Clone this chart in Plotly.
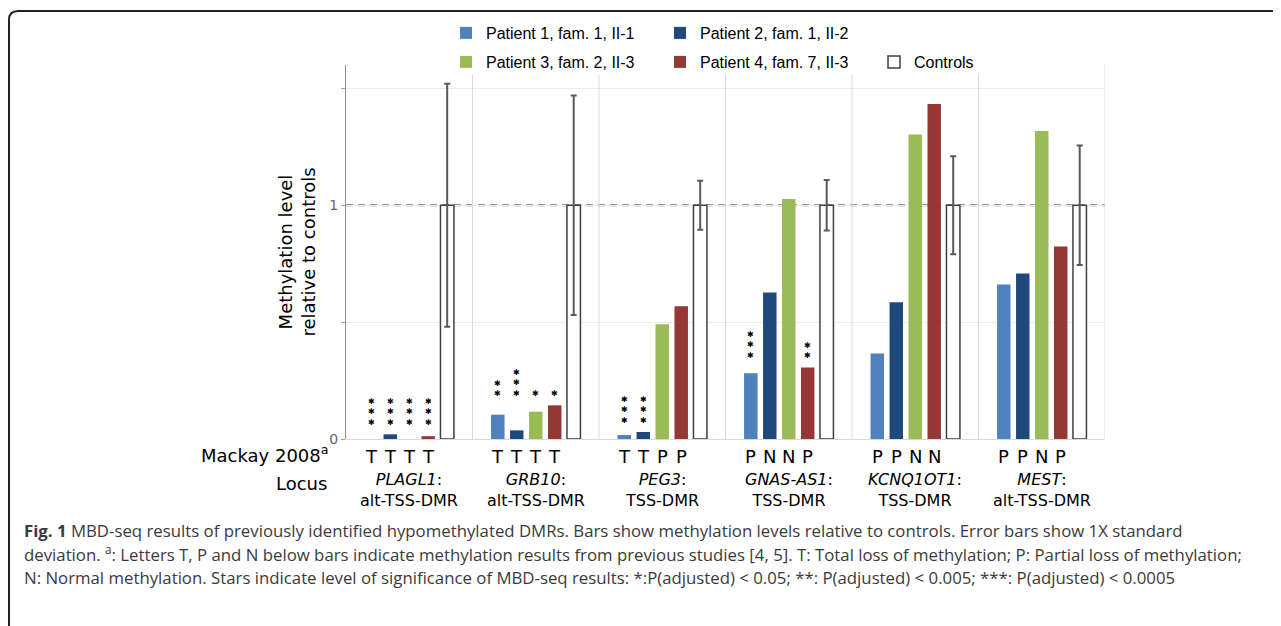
import plotly.graph_objects as go

# ---------------- data ----------------
loci_gene = ["PLAGL1", "GRB10", "PEG3", "GNAS-AS1", "KCNQ1OT1", "MEST"]
loci_region = ["alt-TSS-DMR", "alt-TSS-DMR", "TSS-DMR", "TSS-DMR", "TSS-DMR", "alt-TSS-DMR"]

patient1 = [0.0, 0.104, 0.017, 0.281, 0.366, 0.661]
patient2 = [0.020, 0.037, 0.030, 0.627, 0.585, 0.708]
patient3 = [0.0, 0.117, 0.491, 1.027, 1.303, 1.318]
patient4 = [0.012, 0.144, 0.568, 0.306, 1.433, 0.823]
controls = [1, 1, 1, 1, 1, 1]
controls_sd = [0.52, 0.47, 0.105, 0.108, 0.21, 0.256]

# Mackay 2008 letters per locus (patients 1-4)
mackay = [
    ["T", "T", "T", "T"],
    ["T", "T", "T", "T"],
    ["T", "T", "P", "P"],
    ["P", "N", "N", "P"],
    ["P", "P", "N", "N"],
    ["P", "P", "N", "P"],
]
# number of significance stars per locus (patients 1-4)
stars = [
    [3, 3, 3, 3],
    [2, 3, 1, 1],
    [3, 3, 0, 0],
    [3, 0, 0, 2],
    [0, 0, 0, 0],
    [0, 0, 0, 0],
]

series_names = ["Patient 1, fam. 1, II-1", "Patient 2, fam. 1, II-2",
                "Patient 3, fam. 2, II-3", "Patient 4, fam. 7, II-3", "Controls"]
series_colors = ["#4f81bd", "#1f497d", "#9bbb59", "#953735"]
y_tickvals = [0, 1]
y_ticktext = ["0", "1"]

# ---------------- layout geometry ----------------
OFF = 8                       # page body margin
W, H = 1281 - OFF, 626 - OFF
PLOT_L, PLOT_R, PLOT_T, PLOT_B = 346, 1105, 65, 439   # page pixels
L, T = PLOT_L - OFF, PLOT_T - OFF
R, B = W - (PLOT_R - OFF), H - (PLOT_B - OFF)
PW, PH = W - L - R, H - T - B
BARGAP = 0.25
NSER = 5
SLOT = (1 - BARGAP) / NSER


def px(xp):
    return (xp - OFF - L) / PW


def py(yp):
    return (H - B - (yp - OFF)) / PH


xs = list(range(len(loci_gene)))
patients = [patient1, patient2, patient3, patient4]

fig = go.Figure()
for k, (vals, name, col) in enumerate(zip(patients, series_names, series_colors)):
    fig.add_trace(go.Bar(
        x=xs, y=vals, name=name, marker=dict(color=col, line=dict(width=0)),
        legend="legend" if k < 2 else "legend2",
    ))
fig.add_trace(go.Bar(
    x=xs, y=controls, name=series_names[4],
    marker=dict(color="white", line=dict(color="#404040", width=1.5)),
    error_y=dict(type="data", array=controls_sd, color="#595959", thickness=2, width=3),
    legend="legend2",
))

annotations = []
# significance stars, stacked above each group's starred bars
for i in xs:
    starred = [patients[k][i] for k in range(4) if stars[i][k] > 0]
    if not starred:
        continue
    base = max(starred)
    for k in range(4):
        n = stars[i][k]
        if n:
            annotations.append(dict(
                x=i + (k - 2) * SLOT, y=base, xref="x", yref="y",
                text="<br>".join(["✱"] * n), showarrow=False,
                yanchor="bottom", yshift=5,
                font=dict(family="DejaVu Sans", size=8, color="black"),
            ))

# Mackay letters below bars, and locus labels
for i in xs:
    for k in range(4):
        annotations.append(dict(
            x=i + (k - 2) * SLOT, y=0, xref="x", yref="y", text=mackay[i][k],
            showarrow=False, yanchor="top", yshift=-5,
            font=dict(family="DejaVu Sans", size=18, color="black"),
        ))
    annotations.append(dict(
        x=i, y=0, xref="x", yref="y",
        text=f"<i>{loci_gene[i]}</i>:<br>{loci_region[i]}",
        showarrow=False, yanchor="top", yshift=-29,
        font=dict(family="DejaVu Sans", size=16, color="black"),
    ))

annotations.append(dict(x=px(331), y=py(454), xref="paper", yref="paper",
                        text="Mackay 2008<sup>a</sup>", showarrow=False,
                        xanchor="right", yanchor="middle",
                        font=dict(family="DejaVu Sans", size=18, color="black")))
annotations.append(dict(x=px(329), y=py(483), xref="paper", yref="paper",
                        text="Locus", showarrow=False,
                        xanchor="right", yanchor="middle",
                        font=dict(family="DejaVu Sans", size=18, color="black")))

caption = [
    "<b>Fig. 1</b> MBD-seq results of previously identified hypomethylated DMRs. Bars show methylation levels relative to controls. Error bars show 1X standard",
    "deviation. <sup>a</sup>: Letters T, P and N below bars indicate methylation results from previous studies [4, 5]. T: Total loss of methylation; P: Partial loss of methylation;",
    "N: Normal methylation. Stars indicate level of significance of MBD-seq results: *:P(adjusted) &lt; 0.05; **: P(adjusted) &lt; 0.005; ***: P(adjusted) &lt; 0.0005",
]
for j, line in enumerate(caption):
    annotations.append(dict(x=px(22), y=py(530 + j * 23.5), xref="paper", yref="paper",
                            text=line, showarrow=False, xanchor="left", yanchor="middle",
                            font=dict(family="Open Sans", size=16.8, color="#3a3a3a")))

shapes = []
# vertical separators between loci
for i in xs[:-1]:
    shapes.append(dict(type="line", xref="x", yref="paper", x0=i + 0.5, x1=i + 0.5,
                       y0=0, y1=py(75), line=dict(color="#d9d9d9", width=1)))
shapes.append(dict(type="line", xref="x", yref="paper", x0=xs[-1] + 0.5, x1=xs[-1] + 0.5,
                   y0=0, y1=1, line=dict(color="#d9d9d9", width=1)))
# reference line at 1
shapes.append(dict(type="line", xref="paper", yref="y", x0=0, x1=1, y0=1, y1=1,
                   line=dict(color="#777777", width=2, dash="7px,5px"), layer="below"))
# rounded frame
x0f, y0f, r = 9, 11, 9
path = (f"M {px(x0f)},{py(650)} L {px(x0f)},{py(y0f + r)} "
        f"Q {px(x0f)},{py(y0f)} {px(x0f + r)},{py(y0f)} L {px(1300)},{py(y0f)}")
shapes.append(dict(type="path", xref="paper", yref="paper", path=path,
                   line=dict(color="#222222", width=2)))

legend_common = dict(orientation="h", xanchor="left", yanchor="middle",
                     entrywidth=169, entrywidthmode="pixels", itemwidth=30,
                     font=dict(family="Liberation Sans", size=16, color="black"),
                     bgcolor="rgba(0,0,0,0)", tracegroupgap=0)

fig.update_layout(
    width=W, height=H,
    margin=dict(l=L, r=R, t=T, b=B, autoexpand=False),
    plot_bgcolor="white", paper_bgcolor="white",
    barmode="group", bargap=BARGAP, bargroupgap=0.29,
    font=dict(family="DejaVu Sans", color="black"),
    xaxis=dict(range=[-0.5, len(xs) - 0.5], showticklabels=False, ticks="",
               showgrid=False, zeroline=False, showline=True, linecolor="#d9d9d9",
               linewidth=1, fixedrange=True),
    yaxis=dict(range=[0, 1.6], tickvals=y_tickvals, ticktext=y_ticktext,
               ticks="outside", ticklen=4, tickcolor="#a0a0a0",
               tickfont=dict(family="DejaVu Sans", size=14, color="#666666"),
               showgrid=False, zeroline=False,
               minor=dict(dtick=0.5, tick0=0, ticks="outside", ticklen=4,
                          tickcolor="#a0a0a0", showgrid=True, gridcolor="#ececec"),
               showline=True, linecolor="#909090", linewidth=1,
               title=dict(text="Methylation level<br>relative to controls",
                          font=dict(family="DejaVu Sans", size=18, color="black"),
                          standoff=8)),
    legend=dict(x=px(446), y=py(33), **legend_common),
    legend2=dict(x=px(446), y=py(62), **legend_common),
    annotations=annotations,
    shapes=shapes,
)

fig.write_html("out.html")
